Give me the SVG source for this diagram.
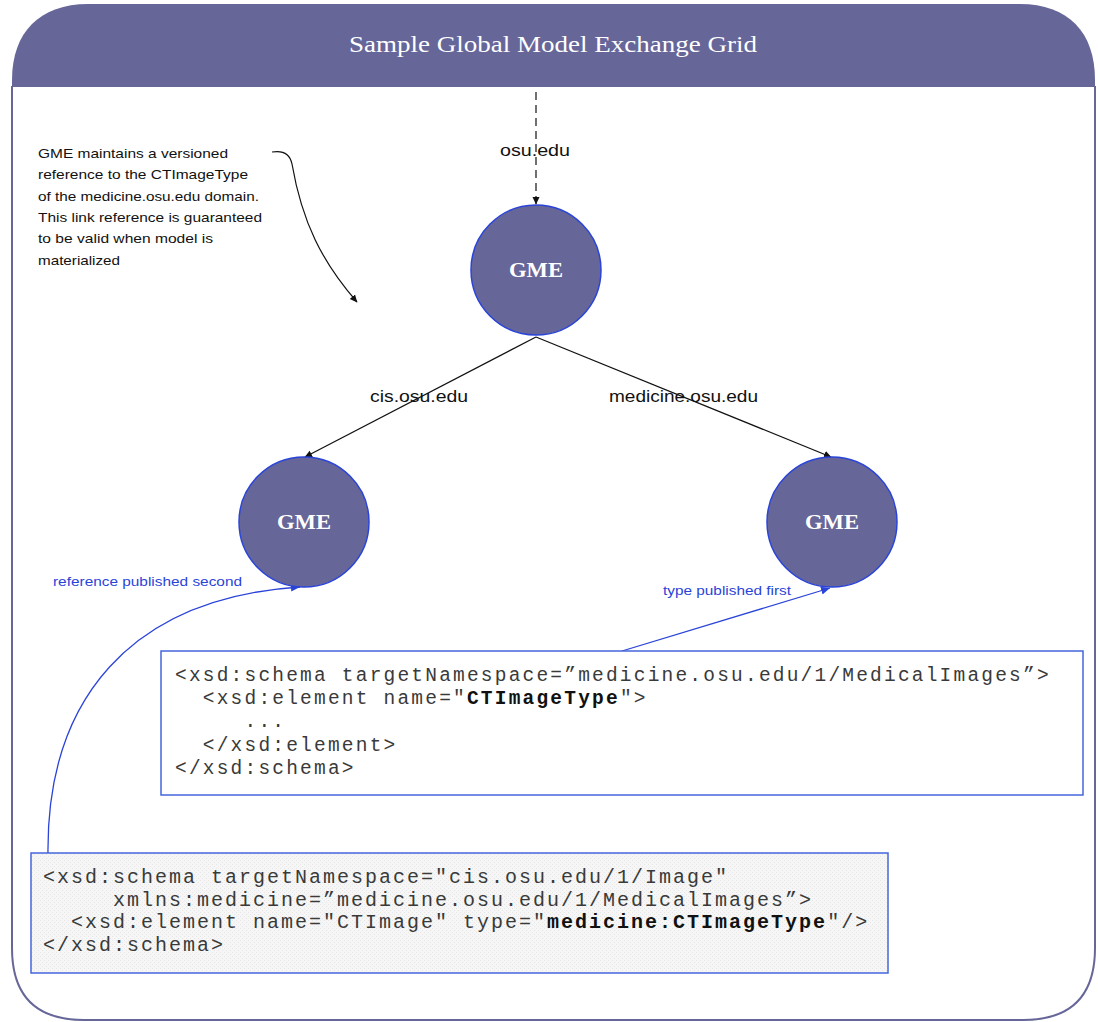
<svg xmlns="http://www.w3.org/2000/svg" width="1098" height="1022" viewBox="0 0 1098 1022">
<style>
.frame{fill:#ffffff;stroke:#666699;stroke-width:2}
.hdr{fill:#666699}
.title{font-family:"Liberation Serif",serif;font-size:24px;fill:#ffffff}
.gme circle{fill:#666699;stroke:#2a44d8;stroke-width:1.5}
.gme text{font-family:"Liberation Serif",serif;font-weight:bold;font-size:20px;fill:#ffffff}
.lbl{font-family:"Liberation Sans",Arial,sans-serif;font-size:16px;fill:#111111}
.note{font-family:"Liberation Sans",Arial,sans-serif;font-size:13.5px;fill:#111111}
.blue{font-family:"Liberation Sans",Arial,sans-serif;font-size:13.5px;fill:#2a44d8}
.code{font-family:"Liberation Mono","Courier New",monospace;font-size:19.5px;letter-spacing:2.2px;fill:#3a3a3a}
.code tspan.b{font-weight:bold;fill:#111111}
.box{stroke:#4466dd;stroke-width:1.5}
.con{fill:none;stroke:#111111;stroke-width:1.2}
.bcon{fill:none;stroke:#2a44d8;stroke-width:1.3}
</style>
<defs>
<marker id="ah" markerWidth="8" markerHeight="8" refX="7" refY="4" orient="auto" markerUnits="userSpaceOnUse">
<path d="M0,0.5 L7.5,4 L0,7.5 Z" fill="#111111"/>
</marker>
<marker id="ahb" markerWidth="10" markerHeight="10" refX="9" refY="5" orient="auto" markerUnits="userSpaceOnUse">
<path d="M0,1 L9,5 L0,9 Z" fill="#2a44d8"/>
</marker>
<pattern id="dots" width="4" height="4" patternUnits="userSpaceOnUse">
<rect width="4" height="4" fill="#f6f6f6"/>
<rect width="1" height="1" fill="#e6e6e6"/>
<rect x="2" y="2" width="1" height="1" fill="#e6e6e6"/>
</pattern>
</defs>

<g id="frame">
<path class="frame" d="M12,86 L12,948 Q12,1020 84,1020 L1023,1020 Q1095,1020 1095,948 L1095,86"/>
<path class="hdr" d="M12,87 L12,80 C12,32 40,4 88,4 L1020,4 C1068,4 1095,32 1095,80 L1095,87 Z"/>
<text class="title" x="349" y="52" textLength="408" lengthAdjust="spacingAndGlyphs">Sample Global Model Exchange Grid</text>
</g>

<g id="connectors">
<line class="con" x1="536" y1="92" x2="536" y2="204" stroke-dasharray="8,5" marker-end="url(#ah)"/>
<line class="con" x1="536" y1="337" x2="305" y2="457" marker-end="url(#ah)"/>
<line class="con" x1="536" y1="337" x2="831" y2="457" marker-end="url(#ah)"/>
<path class="con" d="M272,152 C284,150 290,154 292,164 C302,222 322,262 357,302" marker-end="url(#ah)"/>
<path class="bcon" d="M48,855 C46,700 130,598 300,587" marker-end="url(#ahb)"/>
<line class="bcon" x1="622" y1="651" x2="830" y2="588" marker-end="url(#ahb)"/>
</g>

<g id="labels">
<text class="lbl" x="500" y="156" textLength="70" lengthAdjust="spacingAndGlyphs">osu.edu</text>
<text class="lbl" x="370" y="402" textLength="98" lengthAdjust="spacingAndGlyphs">cis.osu.edu</text>
<text class="lbl" x="609" y="402" textLength="149" lengthAdjust="spacingAndGlyphs">medicine.osu.edu</text>
<text class="blue" x="53" y="586" textLength="189" lengthAdjust="spacingAndGlyphs">reference published second</text>
<text class="blue" x="663" y="595" textLength="128" lengthAdjust="spacingAndGlyphs">type published first</text>
</g>

<g id="note">
<text class="note" x="38" y="158" textLength="190" lengthAdjust="spacingAndGlyphs">GME maintains a versioned</text>
<text class="note" x="38" y="179" textLength="210" lengthAdjust="spacingAndGlyphs">reference to the CTImageType</text>
<text class="note" x="38" y="201" textLength="221" lengthAdjust="spacingAndGlyphs">of the medicine.osu.edu domain.</text>
<text class="note" x="38" y="222" textLength="224" lengthAdjust="spacingAndGlyphs">This link reference is guaranteed</text>
<text class="note" x="38" y="243" textLength="175" lengthAdjust="spacingAndGlyphs">to be valid when model is</text>
<text class="note" x="38" y="265" textLength="82" lengthAdjust="spacingAndGlyphs">materialized</text>
</g>

<g id="gme-root" class="gme">
<circle cx="536" cy="270" r="65"/>
<text x="509" y="277" textLength="54" lengthAdjust="spacingAndGlyphs">GME</text>
</g>
<g id="gme-cis" class="gme">
<circle cx="304" cy="522" r="65"/>
<text x="277" y="529" textLength="54" lengthAdjust="spacingAndGlyphs">GME</text>
</g>
<g id="gme-medicine" class="gme">
<circle cx="832" cy="522" r="65"/>
<text x="805" y="529" textLength="54" lengthAdjust="spacingAndGlyphs">GME</text>
</g>

<g id="schema-medicine">
<rect class="box" x="161" y="651" width="922" height="144" fill="#ffffff"/>
<text class="code" xml:space="preserve"><tspan x="175" y="681">&lt;xsd:schema targetNamespace=”medicine.osu.edu/1/MedicalImages”&gt;</tspan><tspan x="175" y="704">  &lt;xsd:element name="<tspan class="b">CTImageType</tspan>"&gt;</tspan><tspan x="175" y="727">     ...</tspan><tspan x="175" y="751">  &lt;/xsd:element&gt;</tspan><tspan x="175" y="774">&lt;/xsd:schema&gt;</tspan></text>
</g>

<g id="schema-cis">
<rect class="box" x="31" y="853" width="857" height="120" fill="url(#dots)"/>
<text class="code" style="font-size:20px;letter-spacing:2px" xml:space="preserve"><tspan x="43" y="883">&lt;xsd:schema targetNamespace="cis.osu.edu/1/Image"</tspan><tspan x="43" y="906">     xmlns:medicine=”medicine.osu.edu/1/MedicalImages”&gt;</tspan><tspan x="43" y="928">  &lt;xsd:element name="CTImage" type="<tspan class="b">medicine:CTImageType</tspan>"/&gt;</tspan><tspan x="43" y="951">&lt;/xsd:schema&gt;</tspan></text>
</g>
</svg>
